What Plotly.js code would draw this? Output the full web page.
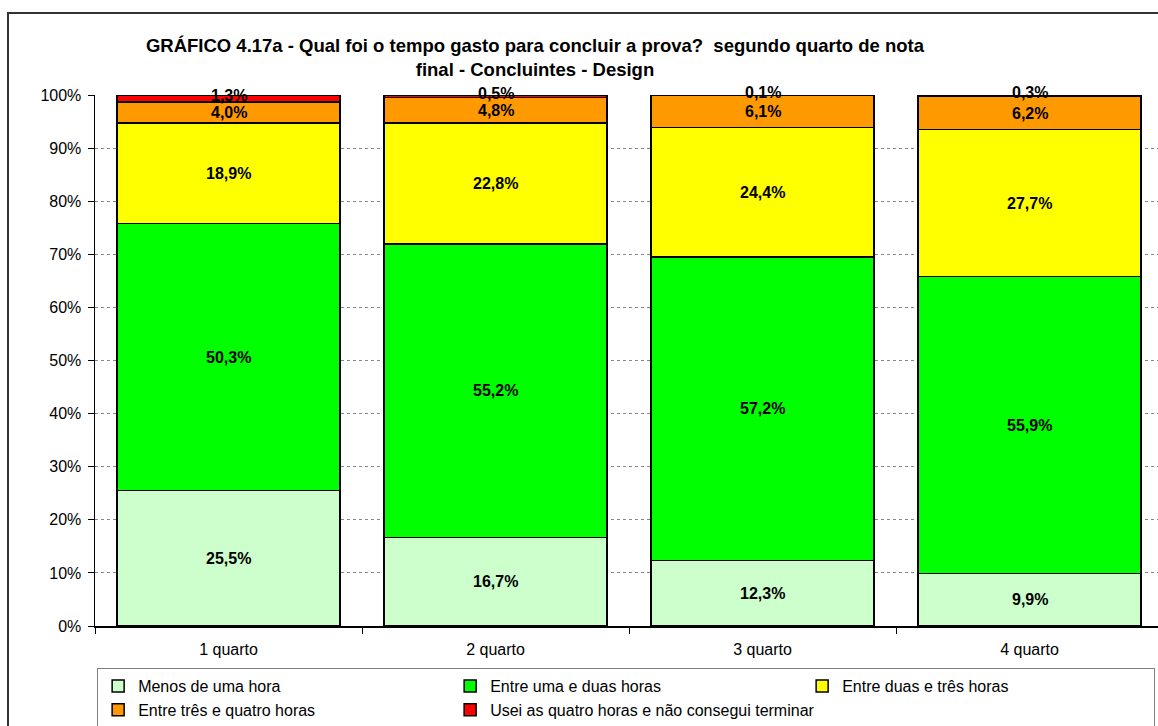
<!DOCTYPE html>
<html>
<head>
<meta charset="utf-8">
<script src="https://cdn.plot.ly/plotly-3.0.1.min.js"></script>
<style>
html,body{margin:0;padding:0;overflow:hidden;background:#fff;}
#chart{width:1170px;height:726px;}
</style>
</head>
<body>
<div id="chart"></div>
<script>
const categories = ["1 quarto", "2 quarto", "3 quarto", "4 quarto"];
const seriesNames = [
  "Menos de uma hora",
  "Entre uma e duas horas",
  "Entre duas e três horas",
  "Entre três e quatro horas",
  "Usei as quatro horas e não consegui terminar"
];
const menosDeUmaHora = [25.5, 16.7, 12.3, 9.9];
const entreUmaEDuas = [50.3, 55.2, 57.2, 55.9];
const entreDuasETres = [18.9, 22.8, 24.4, 27.7];
const entreTresEQuatro = [4.0, 4.8, 6.1, 6.2];
const useiQuatroHoras = [1.3, 0.5, 0.1, 0.3];
const seriesColors = ["#CCFFCC", "#00FF00", "#FFFF00", "#FF9900", "#FF0000"];
const yTickVals = [0, 10, 20, 30, 40, 50, 60, 70, 80, 90, 100];
const yTickText = ["0%", "10%", "20%", "30%", "40%", "50%", "60%", "70%", "80%", "90%", "100%"];

const allSeries = [menosDeUmaHora, entreUmaEDuas, entreDuasETres, entreTresEQuatro, useiQuatroHoras];
const fmt = v => v.toFixed(1).replace(".", ",") + "%";
const FONT = "Liberation Sans, Arial, sans-serif";

const traces = allSeries.map((vals, i) => ({
  type: "bar",
  name: seriesNames[i],
  x: categories,
  y: vals,
  marker: { color: seriesColors[i], line: { color: "#000", width: 1.5 } },
  hoverinfo: "skip"
}));

const annotations = [];
categories.forEach((c, j) => {
  let base = 0;
  allSeries.forEach((vals, i) => {
    const v = vals[j];
    annotations.push({
      x: c, y: Math.min(base + v / 2, 99.9), xref: "x", yref: "y",
      text: "<b>" + fmt(v) + "</b>", showarrow: false,
      font: { family: FONT, size: 16, color: "#000" },
      yshift: i === 4 ? 3 : 0
    });
    base += v;
  });
});

const layout = {
  width: 1170, height: 726,
  margin: { l: 95, r: 7, t: 95, b: 100, autoexpand: false },
  paper_bgcolor: "#fff", plot_bgcolor: "#fff",
  barmode: "stack",
  bargap: 0.165,
  font: { family: FONT, size: 16, color: "#000" },
  title: {
    text: "<b>GRÁFICO 4.17a - Qual foi o tempo gasto para concluir a prova?  segundo quarto de nota<br>final - Concluintes - Design</b>",
    font: { family: FONT, size: 18.5, color: "#000" },
    xref: "container", x: 535 / 1170, xanchor: "center",
    yref: "container", y: 1 - 52 / 726, yanchor: "top"
  },
  xaxis: {
    type: "category",
    tickson: "boundaries",
    ticks: "outside", ticklen: 6, tickcolor: "#000",
    showline: true, linecolor: "#000", linewidth: 1.5,
    showgrid: false, zeroline: false,
    ticklabelstandoff: 8,
    tickfont: { size: 16 }
  },
  yaxis: {
    range: [0, 100],
    tickvals: yTickVals, ticktext: yTickText,
    ticks: "outside", ticklen: 6, tickcolor: "#000",
    showline: true, linecolor: "#000", linewidth: 1.5,
    showgrid: true, gridcolor: "#888", griddash: "dot", gridwidth: 1,
    zeroline: false,
    ticklabelstandoff: 3,
    tickfont: { size: 16 }
  },
  showlegend: true,
  legend: {
    orientation: "h",
    x: 0.002, xanchor: "left",
    y: (626 - 668) / 531, yanchor: "top",
    bordercolor: "#808080", borderwidth: 1,
    entrywidth: 307, entrywidthmode: "pixels",
    traceorder: "normal",
    font: { size: 16 }
  },
  annotations: annotations,
  shapes: [{
    type: "rect", xref: "paper", yref: "paper",
    x0: (8 - 95) / 1068, x1: 1.2,
    y0: -0.5, y1: (626 - 13) / 531,
    line: { color: "#333", width: 2 }, fillcolor: "rgba(0,0,0,0)",
    layer: "below"
  }]
};

Plotly.newPlot("chart", traces, layout, { displayModeBar: false, staticPlot: true });
</script>
</body>
</html>
